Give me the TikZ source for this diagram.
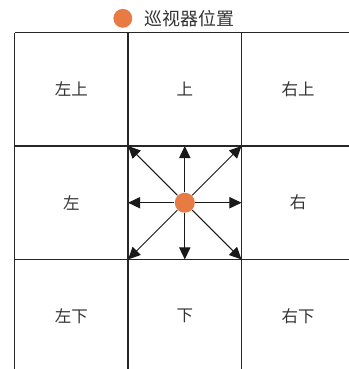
\documentclass[tikz,border=0pt]{standalone}
\usepackage{fontspec}
\setmainfont{Noto Sans CJK SC}
\usetikzlibrary{arrows.meta}
\definecolor{roverorange}{RGB}{232,123,68}

\tikzset{
    cell/.style={font=\fontsize{12.4}{14}\selectfont, text=black!80},
    rovdot/.style={circle, fill=roverorange, inner sep=0pt, minimum size=0.53cm},
}

\begin{document}
\begin{tikzpicture}[line width=0.75pt, >={Triangle[length=0.32cm,width=0.3cm]}]
    \useasboundingbox (-0.39,0.10) rectangle (8.84,9.865);
    \clip (-0.39,0.10) rectangle (8.84,9.865);
    % 3x3 grid
    \draw[line width=1pt, black!85] (0,0) grid[step=3] (9,9);
    % legend
    \node[rovdot, minimum size=0.5cm] (key) at (2.86,9.38) {};
    \node[anchor=west, text=black!80, font=\fontsize{13.5}{15}\selectfont, inner sep=0pt] (keytext) at (3.42,9.38) {巡视器位置};
    % cell labels
    \node[cell] (ul) at (1.5,7.5) {左上};
    \node[cell] (u)  at (4.5,7.5) {上};
    \node[cell] (ur) at (7.5,7.5) {右上};
    \node[cell] (l)  at (1.5,4.5) {左};
    \node[cell] (r)  at (7.5,4.5) {右};
    \node[cell] (dl) at (1.5,1.5) {左下};
    \node[cell] (d)  at (4.5,1.5) {下};
    \node[cell] (dr) at (7.5,1.5) {右下};
    % rover and its eight moves
    \node[rovdot] (rover) at (4.5,4.5) {};
    \foreach \dx/\dy/\mv in {0/1.5/mn, 1.5/1.5/mne, 1.5/0/me, 1.5/-1.5/mse,
                            0/-1.5/ms, -1.5/-1.5/msw, -1.5/0/mw, -1.5/1.5/mnw} {
        \coordinate (\mv) at (4.5+\dx,4.5+\dy);
        \draw[->, black!90] (rover) -- (\mv);
    }
\end{tikzpicture}
\end{document}
